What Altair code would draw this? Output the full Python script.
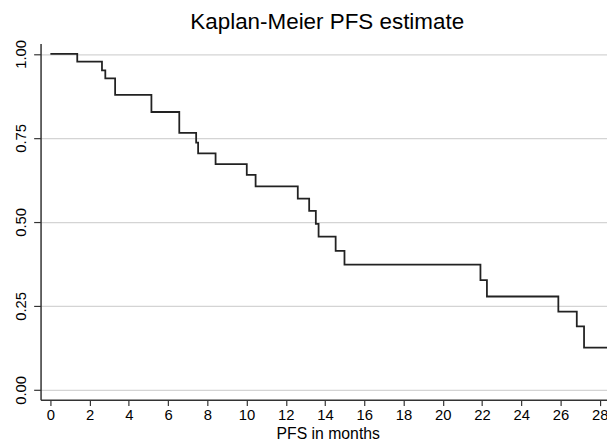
import altair as alt
import pandas as pd

# Kaplan-Meier step estimates
times = [0, 1.37, 2.63, 2.80, 3.30, 5.15, 6.57, 7.43, 7.53, 8.42, 10.01, 10.46,
         12.61, 13.19, 13.53, 13.67, 14.54, 14.99, 21.92, 22.25, 25.89, 26.83,
         27.20, 28.37]
surv = [1.0, 0.977, 0.951, 0.927, 0.878, 0.827, 0.765, 0.736, 0.704, 0.672,
        0.640, 0.606, 0.569, 0.533, 0.494, 0.456, 0.414, 0.373, 0.327, 0.278,
        0.233, 0.189, 0.126, 0.126]

x_ticks = list(range(0, 29, 2))
y_ticks = [0.0, 0.25, 0.5, 0.75, 1.0]

df = pd.DataFrame({"t": times, "s": surv})

FONT = "Liberation Sans"

chart = alt.Chart(df).mark_line(
    interpolate="step-after", color="#222222", strokeWidth=1.8
).encode(
    x=alt.X("t:Q",
            scale=alt.Scale(domain=[-0.5, 28.37], nice=False, zero=False),
            axis=alt.Axis(values=x_ticks, format="d", title="PFS in months",
                          grid=False, tickSize=6, labelPadding=2,
                          labelFontSize=15, labelFont=FONT, labelColor="#000",
                          titleFontSize=16, titleFont=FONT, titleColor="#000",
                          titleFontWeight="normal", titleBaseline="alphabetic",
                          titleX=291, titleY=39.7, titleAnchor="start",
                          titleAlign="center",
                          domainColor="#333", domainWidth=1.5,
                          tickColor="#333", tickWidth=1.2,
                          labelFlush=False, labelOverlap=False)),
    y=alt.Y("s:Q",
            scale=alt.Scale(domain=[-0.029, 1.031], nice=False, zero=False),
            axis=alt.Axis(values=y_ticks, format=".2f", title=None,
                          grid=True, gridColor="#d4d4d4", gridWidth=1.3,
                          tickSize=7, labelPadding=8, labelAngle=270,
                          labelAlign="center", labelBaseline="alphabetic",
                          labelFontSize=15, labelFont=FONT, labelColor="#000",
                          domainColor="#333", domainWidth=1.5,
                          tickColor="#333", tickWidth=1.2,
                          labelFlush=False, labelOverlap=False)),
).properties(
    width=574,
    height=361,
    title=alt.TitleParams("Kaplan-Meier PFS estimate", fontSize=22.7, font=FONT,
                          fontWeight="normal", color="#000", anchor="middle",
                          frame="group", baseline="alphabetic", offset=10.3,
                          dx=3.5, dy=22),
    autosize=alt.AutoSizeParams(type="none"),
    padding={"left": 33, "top": 33, "right": 0, "bottom": 42},
    background="white",
).configure_view(stroke=None)

chart.save("out.html", embed_options={"renderer": "svg", "actions": False})
